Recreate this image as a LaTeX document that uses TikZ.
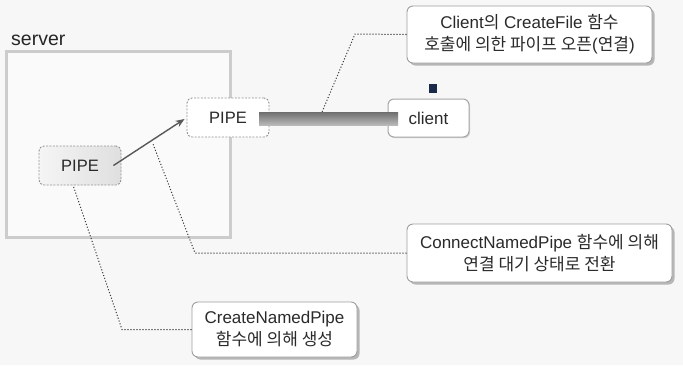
\documentclass[tikz,border=0pt]{standalone}
\usepackage{fontspec}
\setmainfont{Liberation Sans}
\newfontfamily\kr{Noto Sans CJK KR}
\usetikzlibrary{arrows.meta,shadows,calc}
\definecolor{bgc}{HTML}{F7F7F7}
\definecolor{txt}{HTML}{2A2A2A}
\definecolor{navy}{HTML}{1B2A4A}
\tikzset{
  pipebox/.style={draw=gray!85, line width=0.9pt, dash pattern=on 2pt off 1.4pt, rounded corners=5pt,
    minimum width=82pt, minimum height=39pt, text=txt, font=\fontsize{16.5}{20}\selectfont},
  callout/.style={draw=gray!75, line width=0.9pt, rounded corners=6pt, fill=white, align=center,
    text=txt, font=\fontsize{17}{22}\selectfont,
    drop shadow={shadow xshift=2.5pt, shadow yshift=-2.5pt, fill=gray!70, opacity=0.8}},
  leader/.style={line width=1pt, dash pattern=on 1.1pt off 1.9pt, draw=gray!45!black},
}
\begin{document}
\begin{tikzpicture}[x=1pt, y=-1pt]
\useasboundingbox (0,0) rectangle (683,365);
\fill[bgc] (0,0) rectangle (683,365);

% server frame
\node (server) [draw=gray!40, line width=3pt, fill=bgc!60!white, minimum width=224pt, minimum height=186pt, inner sep=0pt] at (118,144) {};
\node (serverlbl) [anchor=base west, inner sep=0pt, text=black!85, font=\fontsize{19.5}{22}\selectfont] at (11,45) {server};

% pipes
\node (pipe1) [pipebox, left color=gray!8, right color=gray!25] at (80,165.5) {PIPE};
\node (pipe2) [pipebox, fill=white] at (228,117.5) {PIPE};

% client
\node (client) [draw=gray!70, line width=1pt, rounded corners=6pt, fill=white, minimum width=81pt, minimum height=38pt,
  text=txt, font=\fontsize{17}{20}\selectfont,
  drop shadow={shadow xshift=1.2pt, shadow yshift=-1.2pt, fill=gray!50, opacity=0.6}] at (428.5,118) {client};
\node (sq) [fill=navy, minimum width=8pt, minimum height=9pt, inner sep=0pt] at (433,88.5) {};

% connection bar
\node (bar) [top color={rgb,255:red,110;green,110;blue,110}, bottom color={rgb,255:red,185;green,185;blue,185},
  minimum width=139pt, minimum height=13pt, inner sep=0pt] at (328.5,118.5) {};

% arrow
\draw[-{Stealth[length=9pt,width=7pt]}, line width=1.4pt, draw=black!65, fill=black!65]
  ($(pipe1.east)+(-8,0)$) -- ($(pipe2.west)+(-2,1.5)$);

% callouts
\node (c1) [callout, minimum width=245pt, minimum height=57pt] at (529.5,34.5)
  {Client{\kr 의} CreateFile {\kr 함수}\\{\kr 호출에 의한 파이프 오픈}({\kr 연결})};
\node (c2) [callout, minimum width=265pt, minimum height=58pt] at (539.5,253)
  {ConnectNamedPipe {\kr 함수에 의해}\\{\kr 연결 대기 상태로 전환}};
\node (c3) [callout, minimum width=165pt, minimum height=55pt] at (274.5,329.5)
  {CreateNamedPipe\\{\kr 함수에 의해 생성}};

% leader lines
\coordinate (k1) at (355,34);
\coordinate (b1) at (322,112);
\draw[leader] (c1.west) -- (k1) -- (b1);

\coordinate (k2) at (195,253);
\coordinate (a1) at (153,144);
\draw[leader] (c2.west) -- (k2) -- (a1);

\coordinate (k3) at (122,329.5);
\coordinate (p1) at (73,185);
\draw[leader] (c3.west) -- (k3) -- (p1);
\end{tikzpicture}
\end{document}
